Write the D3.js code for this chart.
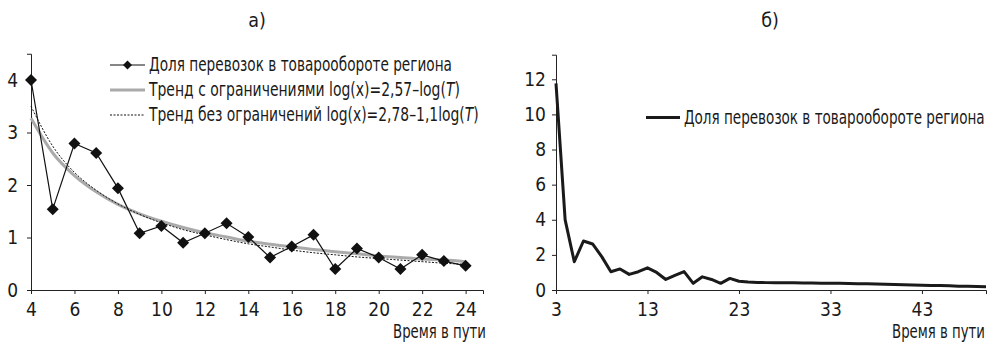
<!DOCTYPE html>
<html>
<head>
<meta charset="utf-8">
<script src="https://cdn.jsdelivr.net/npm/d3@7"></script>
<style>
  body { margin: 0; background: #fff; }
  svg { display: block; }
  text { font-family: "Liberation Sans Narrow", "DejaVu Sans Condensed", "Liberation Sans", sans-serif; font-stretch: condensed; font-size: 19.5px; fill: #1a1a1a; }
  .axis path, .axis line { stroke: #222; stroke-width: 1; }
  .axis text { font-family: "Liberation Sans Narrow", "DejaVu Sans Condensed", "Liberation Sans", sans-serif; font-stretch: condensed; font-size: 19px; fill: #1a1a1a; }
</style>
</head>
<body>
<div id="chart"></div>
<script>
// --- data ---
// panel a): share of haulage vs. travel time, with two fitted trends
var timeA = [4, 5, 6, 7, 8, 9, 10, 11, 12, 13, 14, 15, 16, 17, 18, 19, 20, 21, 22, 23, 24];
var shareA = [4.0, 1.54, 2.79, 2.61, 1.94, 1.08, 1.22, 0.90, 1.08, 1.27, 1.01,
              0.62, 0.83, 1.05, 0.40, 0.79, 0.62, 0.40, 0.67, 0.55, 0.46];
var trendLimited = [3.27, 2.61, 2.18, 1.87, 1.63, 1.45, 1.31, 1.19, 1.09, 1.01, 0.93,
                    0.87, 0.82, 0.77, 0.73, 0.69, 0.65, 0.62, 0.59, 0.57, 0.54];
var trendFree = [3.50, 2.74, 2.24, 1.90, 1.64, 1.44, 1.28, 1.15, 1.05, 0.96, 0.88,
                 0.82, 0.76, 0.71, 0.67, 0.63, 0.60, 0.57, 0.54, 0.51, 0.49];
var xTicksA = [4, 6, 8, 10, 12, 14, 16, 18, 20, 22, 24];
var yTicksA = [0, 1, 2, 3, 4];

// panel б): the whole series up to 50
var timeB = [3, 4, 5, 6, 7, 8, 9, 10, 11, 12, 13, 14, 15, 16, 17, 18, 19, 20, 21, 22, 23, 24, 25, 26,
             27, 28, 29, 30, 31, 32, 33, 34, 35, 36, 37, 38, 39, 40, 41, 42, 43, 44, 45, 46, 47, 48, 49, 50];
var shareB = [11.77, 3.99, 1.61, 2.79, 2.62, 1.90, 1.04, 1.20, 0.89, 1.04, 1.26, 1.00, 0.60, 0.83,
              1.05, 0.38, 0.75, 0.60, 0.38, 0.66, 0.50, 0.45, 0.43, 0.42, 0.42, 0.41, 0.41, 0.40,
              0.40, 0.39, 0.38, 0.38, 0.37, 0.36, 0.35, 0.34, 0.33, 0.31, 0.30, 0.28, 0.27, 0.26,
              0.25, 0.24, 0.22, 0.21, 0.20, 0.19];
var xTicksB = [3, 13, 23, 33, 43];
var yTicksB = [0, 2, 4, 6, 8, 10, 12];

var seriesLabel = "Доля перевозок в товарообороте региона";
var trendLimitedLabel = "Тренд с ограничениями ";
var trendFreeLabel = "Тренд без ограничений ";
var xTitle = "Время в пути";

var width = 989, height = 344;
var svg = d3.select("#chart").append("svg")
    .attr("width", width)
    .attr("height", height);

// squeeze a text horizontally to the width it has in the picture
function fitWidth(sel, x, w) {
    var cur = sel.node().getComputedTextLength();
    if (cur > 0) {
        var k = w / cur;
        sel.attr("transform", "translate(" + x + ",0) scale(" + k + ",1) translate(" + (-x) + ",0)");
    }
}

// ---------- panel a) ----------
var xA = d3.scaleLinear().domain([4, 24.8]).range([31, 483]);
var yA = d3.scaleLinear().domain([0, 4.5]).range([290, 53.75]);

svg.append("g")
    .attr("class", "axis")
    .attr("transform", "translate(0," + yA(0) + ")")
    .call(d3.axisBottom(xA).tickValues(xTicksA).tickFormat(d3.format("d"))
        .tickSizeOuter(0).tickSize(4).tickPadding(9));
svg.append("g")
    .attr("class", "axis")
    .attr("transform", "translate(" + xA(4) + ",0)")
    .call(d3.axisLeft(yA).tickValues(yTicksA).tickFormat(d3.format("d"))
        .tickSizeOuter(0).tickSize(4).tickPadding(9));

var lineA = function(vals) {
    return d3.line()
        .x(function(d, i) { return xA(timeA[i]); })
        .y(function(d) { return yA(d); })
        .curve(d3.curveMonotoneX)(vals);
};
svg.append("path")
    .attr("d", lineA(trendLimited))
    .attr("fill", "none")
    .attr("stroke", "#aaa")
    .attr("stroke-width", 3);
svg.append("path")
    .attr("d", lineA(trendFree))
    .attr("fill", "none")
    .attr("stroke", "#111")
    .attr("stroke-width", 1)
    .attr("stroke-dasharray", "2,1.5");
svg.append("path")
    .attr("d", d3.line()
        .x(function(d, i) { return xA(timeA[i]); })
        .y(function(d) { return yA(d); })(shareA))
    .attr("fill", "none")
    .attr("stroke", "#111")
    .attr("stroke-width", 1.2);

var diamond = d3.symbol().type(d3.symbolSquare).size(72);
svg.selectAll(".marker")
    .data(shareA)
    .enter().append("path")
    .attr("class", "marker")
    .attr("d", diamond)
    .attr("transform", function(d, i) { return "translate(" + xA(timeA[i]) + "," + yA(d) + ") rotate(45)"; })
    .attr("fill", "#111");

// legend a)
var legA = svg.append("g");
legA.append("line").attr("x1", 110).attr("x2", 145).attr("y1", 65).attr("y2", 65)
    .attr("stroke", "#111").attr("stroke-width", 1.2);
legA.append("path").attr("d", d3.symbol().type(d3.symbolSquare).size(40))
    .attr("transform", "translate(127.5,65) rotate(45)").attr("fill", "#111");
legA.append("line").attr("x1", 110).attr("x2", 145).attr("y1", 90).attr("y2", 90)
    .attr("stroke", "#aaa").attr("stroke-width", 3);
legA.append("line").attr("x1", 110).attr("x2", 145).attr("y1", 115).attr("y2", 115)
    .attr("stroke", "#111").attr("stroke-width", 1).attr("stroke-dasharray", "2,1.5");

var t1 = legA.append("text").attr("x", 149).attr("y", 71.5).text(seriesLabel);
fitWidth(t1, 149, 303);
var t2 = legA.append("text").attr("x", 149).attr("y", 96.5);
t2.append("tspan").text(trendLimitedLabel + "log(x)=2,57–log(");
t2.append("tspan").style("font-style", "italic").text("T");
t2.append("tspan").text(")");
fitWidth(t2, 149, 311);
var t3 = legA.append("text").attr("x", 149).attr("y", 121.5);
t3.append("tspan").text(trendFreeLabel + "log(x)=2,78–1,1log(");
t3.append("tspan").style("font-style", "italic").text("T");
t3.append("tspan").text(")");
fitWidth(t3, 149, 330);

svg.append("text").attr("x", 257).attr("y", 27).attr("text-anchor", "middle").text("а)");
var xtA = svg.append("text").attr("x", 486).attr("y", 338.5).attr("text-anchor", "end").text(xTitle);
fitWidth(xtA, 486, 93);

// ---------- panel б) ----------
var xB = d3.scaleLinear().domain([3, 50]).range([556, 986]);
var yB = d3.scaleLinear().domain([0, 13.4]).range([290, 54.7]);

svg.append("g")
    .attr("class", "axis")
    .attr("transform", "translate(0," + yB(0) + ")")
    .call(d3.axisBottom(xB).tickValues(xTicksB).tickFormat(d3.format("d"))
        .tickSizeOuter(0).tickSize(4).tickPadding(9));
svg.append("g")
    .attr("class", "axis")
    .attr("transform", "translate(" + xB(3) + ",0)")
    .call(d3.axisLeft(yB).tickValues(yTicksB).tickFormat(d3.format("d"))
        .tickSizeOuter(0).tickSize(4).tickPadding(6));

svg.append("path")
    .attr("d", d3.line()
        .x(function(d, i) { return xB(timeB[i]); })
        .y(function(d) { return yB(d); })(shareB))
    .attr("fill", "none")
    .attr("stroke", "#1a1a1a")
    .attr("stroke-width", 3)
    .attr("stroke-linejoin", "round");

svg.append("line").attr("x1", 646).attr("x2", 680).attr("y1", 117.5).attr("y2", 117.5)
    .attr("stroke", "#1a1a1a").attr("stroke-width", 3);
var tB = svg.append("text").attr("x", 684).attr("y", 124).text(seriesLabel);
fitWidth(tB, 684, 301);

svg.append("text").attr("x", 770).attr("y", 27).attr("text-anchor", "middle").text("б)");
var xtB = svg.append("text").attr("x", 985).attr("y", 338.5).attr("text-anchor", "end").text(xTitle);
fitWidth(xtB, 985, 93);
</script>
</body>
</html>
